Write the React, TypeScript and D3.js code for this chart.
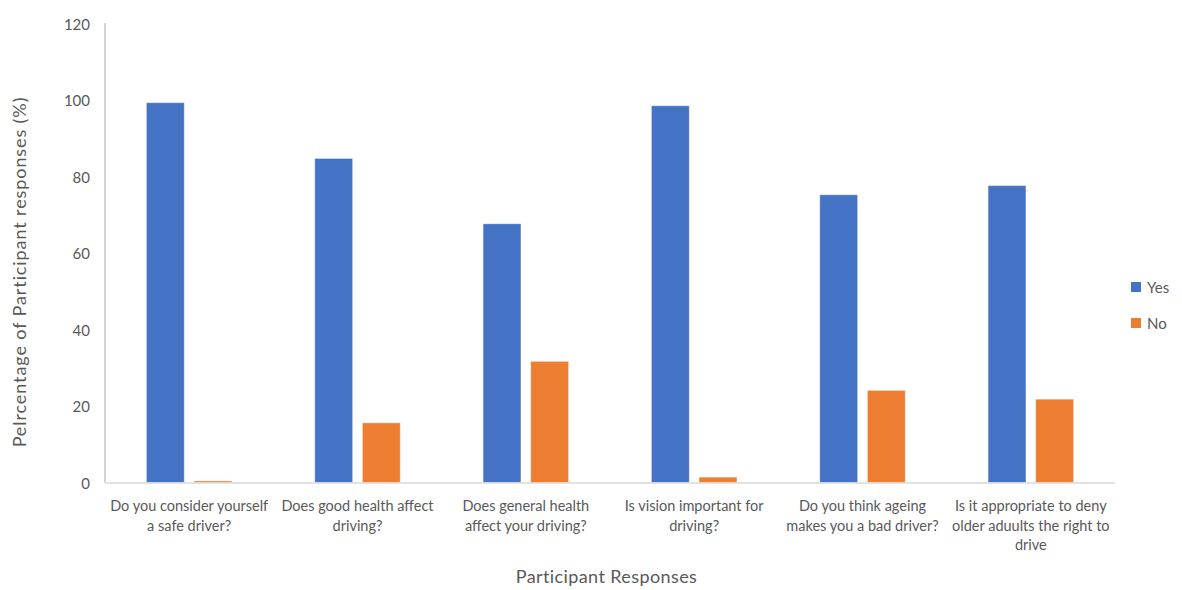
import React from "react";
import * as d3 from "d3";

// Survey questions, one entry per line of the wrapped axis label
const categoryLines: string[][] = [
  ["Do you consider yourself", "a safe driver?"],
  ["Does good health affect", "driving?"],
  ["Does general health", "affect your driving?"],
  ["Is vision important for", "driving?"],
  ["Do you think ageing", "makes you a bad driver?"],
  ["Is it appropriate to deny", "older aduults the right to", "drive"],
];

const seriesNames = ["Yes", "No"];
const yesValues = [99.4, 84.8, 67.7, 98.6, 75.3, 77.7];
const noValues = [0.4, 15.6, 31.7, 1.4, 24.1, 21.8];
const yTicks = [0, 20, 40, 60, 80, 100, 120];

const colors: Record<string, string> = { Yes: "#4472C4", No: "#ED7D31" };

const W = 1182;
const H = 590;
const plot = { left: 105, right: 1115, top: 24, bottom: 482.5 };
const textColor = "#595959";
const font = "Lato, 'Open Sans', sans-serif";

export default function App() {
  const catIds = categoryLines.map((_, i) => String(i));
  const x = d3.scaleBand<string>().domain(catIds).range([plot.left, plot.right]).padding(0);
  const xInner = d3
    .scaleBand<string>()
    .domain(seriesNames)
    .range([0, x.bandwidth()])
    .paddingInner(0.206)
    .paddingOuter(0.87);
  const y = d3.scaleLinear().domain([0, 120]).range([plot.bottom, plot.top]);

  const valuesBySeries: Record<string, number[]> = { Yes: yesValues, No: noValues };

  return (
    <svg
      width={W}
      height={H}
      style={{ position: "absolute", left: 0, top: 0, background: "#fff" }}
      fontFamily={font}
    >
      {/* value axis */}
      <line x1={plot.left} x2={plot.left} y1={plot.top - 1} y2={plot.bottom} stroke="#a6a6a6" strokeWidth={1} />
      {yTicks.map((t) => (
        <text
          key={t}
          x={90}
          y={y(t)}
          textAnchor="end"
          dominantBaseline="central"
          fontSize={15}
          fill={textColor}
        >
          {t}
        </text>
      ))}

      {/* bars */}
      {catIds.map((c, i) =>
        seriesNames.map((s) => {
          const v = valuesBySeries[s][i];
          const bx = (x(c) ?? 0) + (xInner(s) ?? 0);
          return (
            <rect
              key={c + s}
              x={bx}
              y={y(v)}
              width={xInner.bandwidth()}
              height={y(0) - y(v)}
              fill={colors[s]}
              stroke="rgba(255,255,255,0.35)"
              strokeWidth={1}
            />
          );
        })
      )}

      {/* category axis */}
      <line x1={plot.left} x2={plot.right} y1={plot.bottom + 0.5} y2={plot.bottom + 0.5} stroke="#d9d9d9" strokeWidth={1.5} />
      {categoryLines.map((lines, i) => {
        const cx = (x(String(i)) ?? 0) + x.bandwidth() / 2;
        return (
          <text key={i} textAnchor="middle" fontSize={14.5} fill={textColor}>
            {lines.map((ln, j) => (
              <tspan key={j} x={cx} y={511 + j * 19.5}>
                {ln}
              </tspan>
            ))}
          </text>
        );
      })}

      {/* axis titles */}
      <text x={606.5} y={583} textAnchor="middle" fontSize={18} letterSpacing={0.4} fill={textColor}>
        Participant Responses
      </text>
      <text
        transform={`translate(26, 272) rotate(-90)`}
        textAnchor="middle"
        fontSize={18}
        letterSpacing={0.9}
        fill={textColor}
      >
        Pelrcentage of Participant responses (%)
      </text>

      {/* legend */}
      {seriesNames.map((s, i) => (
        <g key={s} transform={`translate(1131, ${282 + i * 36})`}>
          <rect width={10} height={10} fill={colors[s]} />
          <text x={16} y={5} dominantBaseline="central" fontSize={15} fill={textColor}>
            {s}
          </text>
        </g>
      ))}
    </svg>
  );
}
